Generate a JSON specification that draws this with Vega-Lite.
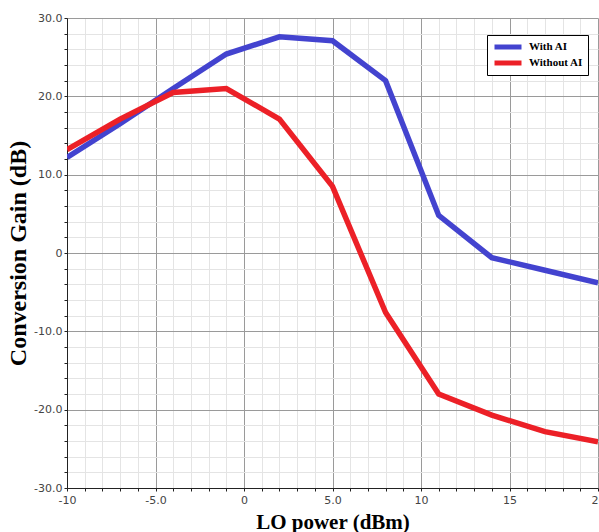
{
  "$schema": "https://vega.github.io/schema/vega-lite/v6.json",
  "width": 531,
  "height": 470,
  "autosize": {"type": "none"},
  "padding": {"left": 67, "top": 18, "right": 1, "bottom": 44},
  "background": "white",
  "config": {
    "view": {"stroke": null},
    "axis": {
      "labelFont": "DejaVu Sans",
      "labelFontSize": 11,
      "labelColor": "#444",
      "titleFont": "Liberation Serif",
      "titleFontWeight": "bold",
      "titleFontSize": 21,
      "titleColor": "#000",
      "domainColor": "#222",
      "tickColor": "#222",
      "tickSize": 3,
      "labelOverlap": false,
      "labelFlush": false,
      "gridWidth": 1
    }
  },
  "data": {
    "values": [
      {"lo": -10, "gain": 12.2, "series": "With AI"},
      {"lo": -7, "gain": 16.5, "series": "With AI"},
      {"lo": -4, "gain": 21.0, "series": "With AI"},
      {"lo": -1, "gain": 25.4, "series": "With AI"},
      {"lo": 2, "gain": 27.6, "series": "With AI"},
      {"lo": 5, "gain": 27.1, "series": "With AI"},
      {"lo": 8, "gain": 22.0, "series": "With AI"},
      {"lo": 11, "gain": 4.8, "series": "With AI"},
      {"lo": 14, "gain": -0.6, "series": "With AI"},
      {"lo": 17, "gain": -2.2, "series": "With AI"},
      {"lo": 20, "gain": -3.8, "series": "With AI"},
      {"lo": -10, "gain": 13.2, "series": "Without AI"},
      {"lo": -7, "gain": 17.1, "series": "Without AI"},
      {"lo": -4, "gain": 20.5, "series": "Without AI"},
      {"lo": -1, "gain": 21.0, "series": "Without AI"},
      {"lo": 2, "gain": 17.1, "series": "Without AI"},
      {"lo": 5, "gain": 8.5, "series": "Without AI"},
      {"lo": 8, "gain": -7.6, "series": "Without AI"},
      {"lo": 11, "gain": -18.0, "series": "Without AI"},
      {"lo": 14, "gain": -20.7, "series": "Without AI"},
      {"lo": 17, "gain": -22.8, "series": "Without AI"},
      {"lo": 20, "gain": -24.1, "series": "Without AI"}
    ]
  },
  "mark": {"type": "line", "strokeWidth": 5.5, "strokeJoin": "miter", "clip": true},
  "encoding": {
    "x": {
      "field": "lo",
      "type": "quantitative",
      "scale": {"domain": [-10, 20], "nice": false, "zero": false},
      "axis": {
        "title": "LO power (dBm)",
        "titlePadding": 6,
        "values": [-10,-9,-8,-7,-6,-5,-4,-3,-2,-1,0,1,2,3,4,5,6,7,8,9,10,11,12,13,14,15,16,17,18,19,20],
        "labelExpr": "datum.value === -5 ? '-5.0' : datum.value === 5 ? '5.0' : (datum.value % 5 === 0 ? '' + datum.value : '')",
        "gridColor": {"condition": {"test": "datum.value % 5 === 0", "value": "#9a9a9a"}, "value": "#e4e4e4"},
        "labelPadding": 3
      }
    },
    "y": {
      "field": "gain",
      "type": "quantitative",
      "scale": {"domain": [-30, 30], "nice": false, "zero": false},
      "axis": {
        "title": "Conversion Gain (dB)",
        "titleFontSize": 24,
        "titlePadding": 3,
        "values": [-30,-28,-26,-24,-22,-20,-18,-16,-14,-12,-10,-8,-6,-4,-2,0,2,4,6,8,10,12,14,16,18,20,22,24,26,28,30],
        "labelExpr": "datum.value === 0 ? '0' : (datum.value % 10 === 0 ? datum.value + '.0' : '')",
        "gridColor": {"condition": {"test": "datum.value % 10 === 0", "value": "#9a9a9a"}, "value": "#e4e4e4"},
        "labelPadding": 2
      }
    },
    "color": {
      "field": "series",
      "type": "nominal",
      "scale": {"domain": ["With AI", "Without AI"], "range": ["#4343cf", "#ec2027"]},
      "legend": {
        "title": null,
        "orient": "none",
        "legendX": 420,
        "legendY": 17,
        "fillColor": "white",
        "strokeColor": "#000",
        "padding": 5,
        "symbolType": "stroke",
        "symbolSize": 729,
        "symbolStrokeWidth": 5,
        "clipHeight": 14,
        "labelFont": "Liberation Serif",
        "labelFontWeight": "bold",
        "labelFontSize": 11,
        "labelOffset": 5,
        "labelColor": "#000",
        "rowPadding": 2
      }
    }
  }
}
